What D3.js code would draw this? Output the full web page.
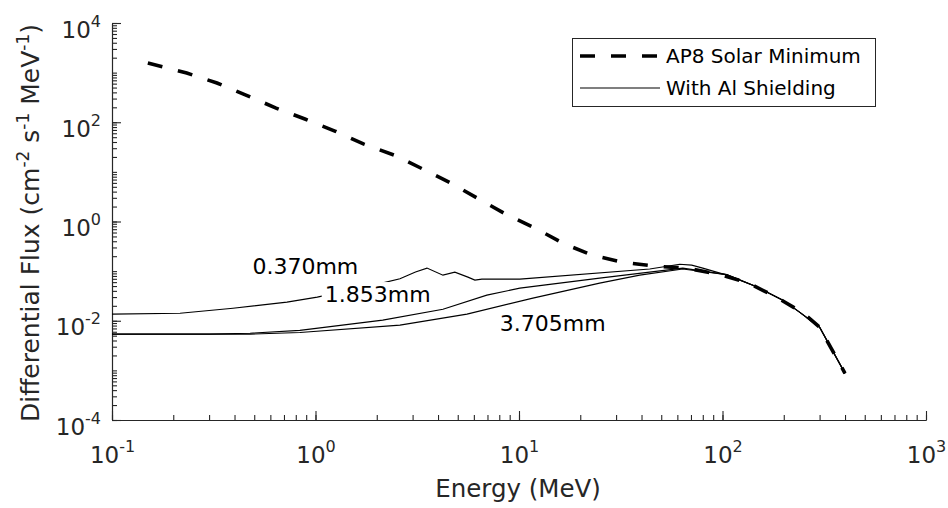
<!DOCTYPE html>
<html>
<head>
<meta charset="utf-8">
<script src="https://cdn.jsdelivr.net/npm/d3@7"></script>
<style>
  body { margin: 0; background: #fff; }
  svg text { font-family: "DejaVu Sans", Verdana, sans-serif; }
</style>
</head>
<body>
<div id="chart"></div>
<script>
// AP8 solar minimum spectrum (MeV, cm^-2 s^-1 MeV^-1)
var energyAP8 = [0.15, 0.233, 0.328, 0.455, 0.64, 0.887, 1.245, 1.73, 2.43, 3.37, 4.63, 6.35, 8.61, 11.96, 16.4, 22.8, 32.3, 46.5, 66.7, 94.6, 131, 184, 250, 300, 400];
var fluxAP8 = [1560, 980, 617, 353, 193, 116, 66.5, 36.3, 21.8, 11.4, 5.94, 2.83, 1.41, 0.74, 0.367, 0.21, 0.151, 0.126, 0.115, 0.087, 0.060, 0.030, 0.0142, 0.0074, 0.00087];

// shielded spectra
var energy0370 = [0.1, 0.216, 0.393, 0.724, 1.02, 1.48, 2.12, 2.6, 3.1, 3.53, 4.23, 4.84, 5.61, 6.07, 6.57, 10.1, 43.9, 61.6, 70.6, 80, 105, 141, 198, 239, 300, 400];
var flux0370 = [0.0136, 0.0142, 0.0179, 0.0237, 0.0299, 0.0414, 0.0573, 0.0700, 0.0960, 0.115, 0.083, 0.0955, 0.0757, 0.066, 0.069, 0.069, 0.110, 0.138, 0.132, 0.115, 0.083, 0.0522, 0.026, 0.0149, 0.0074, 0.00087];

var energy1853 = [0.1, 0.3, 0.477, 0.838, 2.14, 4.23, 6.95, 10.1, 24.9, 63.8, 105, 141, 198, 239, 300, 400];
var flux1853 = [0.00537, 0.00537, 0.0056, 0.0064, 0.0103, 0.0171, 0.0328, 0.0454, 0.0723, 0.115, 0.085, 0.0522, 0.026, 0.0149, 0.0074, 0.00087];

var energy3705 = [0.1, 0.3, 0.477, 0.838, 2.6, 5.55, 11.7, 24.9, 39.2, 63.8, 105, 141, 198, 239, 300, 400];
var flux3705 = [0.00537, 0.00537, 0.00537, 0.0058, 0.00815, 0.0136, 0.0286, 0.0573, 0.083, 0.110, 0.085, 0.0522, 0.026, 0.0149, 0.0074, 0.00087];

// thickness labels: text, energy, flux (left / middle anchor)
var labelText = ["0.370mm", "1.853mm", "3.705mm"];
var labelE = [0.49, 1.11, 8.05];
var labelF = [0.126, 0.0344, 0.00896];

var xTickExp = [-1, 0, 1, 2, 3];
var yTickExp = [-4, -2, 0, 2, 4];

var legendNames = ["AP8 Solar Minimum", "With Al Shielding"];

var W = 948, H = 508;
var margin = {left: 112, right: 22, top: 23, bottom: 88};
var axisColor = "#262626";

var svg = d3.select("#chart").append("svg")
    .attr("width", W)
    .attr("height", H);

var x = d3.scaleLog().domain([0.1, 1000]).range([margin.left, W - margin.right]);
var y = d3.scaleLog().domain([1e-4, 1e4]).range([H - margin.bottom, margin.top]);

// minor ticks (every 1..9 x 10^k)
function minorTicks(lo, hi) {
    var out = [];
    for (var e = lo; e < hi; e++) {
        for (var m = 1; m < 10; m++) out.push(m * Math.pow(10, e));
    }
    out.push(Math.pow(10, hi));
    return out;
}

svg.append("g")
    .attr("transform", "translate(0," + (H - margin.bottom) + ")")
    .call(d3.axisBottom(x).tickValues(minorTicks(-1, 3)).tickSize(-5).tickSizeOuter(0).tickFormat(""));
svg.append("g")
    .attr("transform", "translate(" + margin.left + ",0)")
    .call(d3.axisLeft(y).tickValues(minorTicks(-4, 4)).tickSize(-5).tickSizeOuter(0).tickFormat(""));

var xMajor = svg.append("g")
    .attr("transform", "translate(0," + (H - margin.bottom) + ")")
    .call(d3.axisBottom(x).tickValues(xTickExp.map(function (e) { return Math.pow(10, e); }))
        .tickSize(-9).tickSizeOuter(0).tickFormat(""));
var yMajor = svg.append("g")
    .attr("transform", "translate(" + margin.left + ",0)")
    .call(d3.axisLeft(y).tickValues(yTickExp.map(function (e) { return Math.pow(10, e); }))
        .tickSize(-9).tickSizeOuter(0).tickFormat(""));

svg.selectAll(".domain, .tick line").attr("stroke", axisColor).attr("stroke-width", 1.1);

function powLabel(sel, d) {
    var e = Math.round(Math.log10(d));
    sel.text(null);
    sel.append("tspan").text("10");
    sel.append("tspan").attr("dy", -11).attr("font-size", 16).text(e);
}

xMajor.selectAll(".tick text")
    .attr("y", 43).attr("dy", null)
    .attr("font-size", 23).attr("fill", axisColor)
    .attr("text-anchor", "middle")
    .each(function (d) { powLabel(d3.select(this), d); });

yMajor.selectAll(".tick text")
    .attr("x", -11).attr("dy", 14)
    .attr("font-size", 23).attr("fill", axisColor)
    .attr("text-anchor", "end")
    .each(function (d) { powLabel(d3.select(this), d); });

// axis titles
svg.append("text")
    .attr("x", 518).attr("y", 497)
    .attr("text-anchor", "middle")
    .attr("font-size", 24.5).attr("fill", axisColor)
    .text("Energy (MeV)");

var yt = svg.append("text")
    .attr("transform", "translate(39,223) rotate(-90)")
    .attr("text-anchor", "middle")
    .attr("font-size", 25).attr("fill", axisColor);
yt.append("tspan").text("Differential Flux (cm");
yt.append("tspan").attr("dy", -10).attr("font-size", 17).text("-2");
yt.append("tspan").attr("dy", 10).text(" s");
yt.append("tspan").attr("dy", -10).attr("font-size", 17).text("-1");
yt.append("tspan").attr("dy", 10).text(" MeV");
yt.append("tspan").attr("dy", -10).attr("font-size", 17).text("-1");
yt.append("tspan").attr("dy", 10).text(")");

var line = d3.line()
    .x(function (d) { return x(d[0]); })
    .y(function (d) { return y(d[1]); });

function pairs(es, fs) { return es.map(function (e, i) { return [e, fs[i]]; }); }

var shielded = [pairs(energy0370, flux0370), pairs(energy1853, flux1853), pairs(energy3705, flux3705)];

svg.append("g").selectAll("path")
    .data(shielded)
    .enter().append("path")
    .attr("d", line)
    .attr("fill", "none")
    .attr("stroke", "#000")
    .attr("stroke-width", 1.1);

svg.append("path")
    .datum(pairs(energyAP8, fluxAP8))
    .attr("d", line)
    .attr("fill", "none")
    .attr("stroke", "#000")
    .attr("stroke-width", 3.6)
    .attr("stroke-dasharray", "15,16");

// thickness labels with white background
var lab = svg.append("g").selectAll("g")
    .data(labelText)
    .enter().append("g");
lab.append("text")
    .attr("x", function (d, i) { return x(labelE[i]); })
    .attr("y", function (d, i) { return y(labelF[i]); })
    .attr("dy", "0.36em")
    .attr("font-size", 22)
    .attr("fill", "#000")
    .text(function (d) { return d; });
lab.each(function () {
    var t = d3.select(this).select("text");
    var b = t.node().getBBox();
    d3.select(this).insert("rect", "text")
        .attr("x", b.x - 3).attr("y", b.y)
        .attr("width", b.width + 6).attr("height", b.height)
        .attr("fill", "#fff");
});

// legend
var lg = svg.append("g");
lg.append("rect")
    .attr("x", 572.5).attr("y", 38.5)
    .attr("width", 303).attr("height", 68)
    .attr("fill", "#fff")
    .attr("stroke", axisColor).attr("stroke-width", 1);
lg.append("line")
    .attr("x1", 580).attr("x2", 660).attr("y1", 56).attr("y2", 56)
    .attr("stroke", "#000").attr("stroke-width", 3.6).attr("stroke-dasharray", "15,16");
lg.append("line")
    .attr("x1", 580).attr("x2", 660).attr("y1", 88).attr("y2", 88)
    .attr("stroke", "#000").attr("stroke-width", 1.1);
lg.selectAll("text.leg")
    .data(legendNames)
    .enter().append("text")
    .attr("class", "leg")
    .attr("x", 666)
    .attr("y", function (d, i) { return 56 + i * 32; })
    .attr("dy", "0.36em")
    .attr("font-size", 20)
    .attr("fill", "#000")
    .text(function (d) { return d; });
</script>
</body>
</html>
